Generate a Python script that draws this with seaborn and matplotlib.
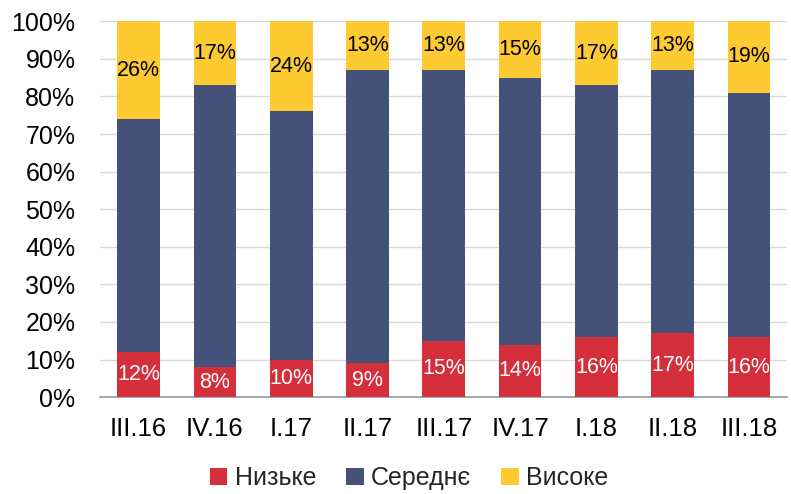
import numpy as np
import pandas as pd
import matplotlib
matplotlib.use("Agg")
import matplotlib.pyplot as plt
import seaborn as sns
from matplotlib.patches import Patch

# data (percent)
periods = ["III.16", "IV.16", "I.17", "II.17", "III.17", "IV.17", "I.18", "II.18", "III.18"]
low = [12, 8, 10, 9, 15, 14, 16, 17, 16]
high = [26, 17, 24, 13, 13, 15, 17, 13, 19]
mid = [100 - l - h for l, h in zip(low, high)]
series_names = ["Низьке", "Середнє", "Високе"]

colors = ["#D52F3B", "#44527A", "#FDCB31"]

sns.set_theme(style="white")
plt.rcParams["font.family"] = ["Liberation Sans", "DejaVu Sans"]

df = pd.DataFrame({"period": periods, "low": low, "mid": mid, "high": high})

fig = plt.figure(figsize=(7.91, 4.94), dpi=100)
ax = fig.add_axes([0.127, 0.196, 0.868, 0.761])

bw = 0.56
sns.barplot(data=df, x="period", y="low", color=colors[0], width=bw, ax=ax,
            saturation=1, linewidth=0, zorder=3)
sns.barplot(data=df, x="period", y="mid", color=colors[1], width=bw, ax=ax,
            bottom=df["low"], saturation=1, linewidth=0, zorder=3)
sns.barplot(data=df, x="period", y="high", color=colors[2], width=bw, ax=ax,
            bottom=df["low"] + df["mid"], saturation=1, linewidth=0, zorder=3)

# value labels
for i in range(len(periods)):
    ax.text(i, low[i] / 2, f"{low[i]}%", ha="center", va="center",
            color="white", fontsize=15.5, zorder=4)
    ax.text(i, 100 - high[i] / 2, f"{high[i]}%", ha="center", va="center",
            color="black", fontsize=15.5, zorder=4)

ax.set_ylim(0, 100)
ax.set_xlim(-0.5, len(periods) - 0.5)
ax.set_yticks(np.arange(0, 101, 10))
ax.set_yticklabels([f"{v}%" for v in range(0, 101, 10)], fontsize=18)
ax.set_xticks(range(len(periods)))
ax.set_xticklabels(periods, fontsize=18.5)
ax.set_xlabel("")
ax.set_ylabel("")

ax.yaxis.grid(True, color="#D9D9D9", linewidth=1, zorder=0)
ax.set_axisbelow(True)
for s in ["top", "right", "left"]:
    ax.spines[s].set_visible(False)
ax.spines["bottom"].set_color("#999999")
ax.spines["bottom"].set_linewidth(1.2)

# ticks between categories on the x axis
ax.tick_params(axis="x", which="major", length=0, pad=14, colors="black")
ax.set_xticks(np.arange(-0.5, len(periods), 1), minor=True)
ax.tick_params(axis="x", which="minor", length=7, width=1.2, color="#999999", direction="out")
ax.tick_params(axis="y", length=0, pad=18, colors="black")

handles = [Patch(facecolor=c, edgecolor="none") for c in colors]
fig.legend(handles, series_names, loc="lower center", bbox_to_anchor=(0.517, -0.038),
           ncol=3, frameon=False, fontsize=18, handlelength=0.7, handleheight=0.7,
           handletextpad=0.3, columnspacing=1.2)

fig.savefig("out.png", dpi=100)
